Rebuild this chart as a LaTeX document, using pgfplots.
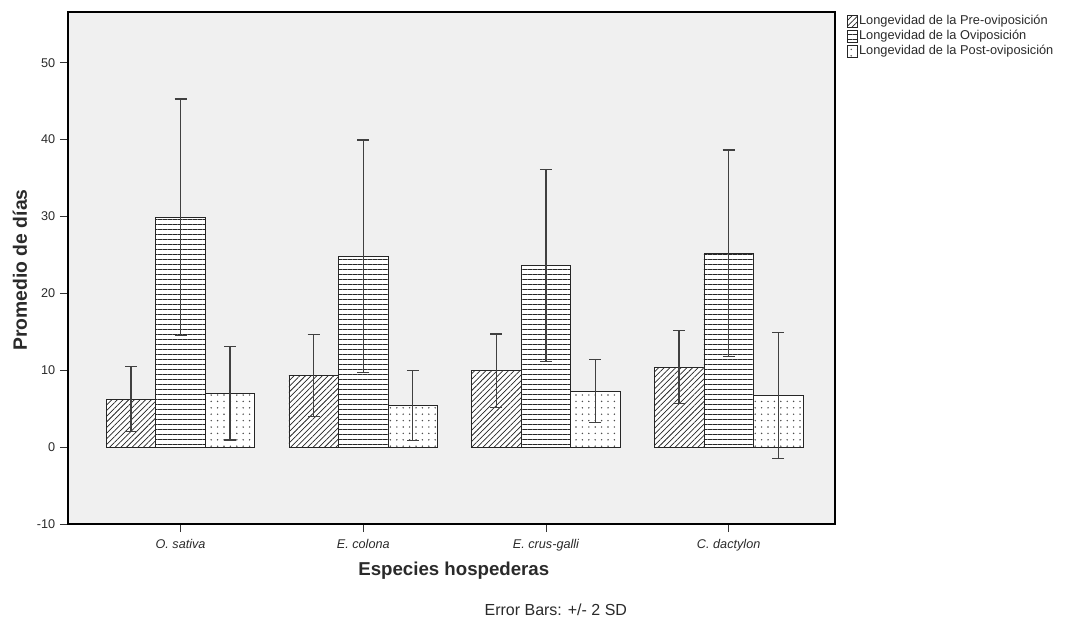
\documentclass[border=0pt]{standalone}
\usepackage{fontspec}
\setmainfont{Liberation Sans}
\usepackage{pgfplots}
\usepackage{pgfplotstable}
\pgfplotsset{compat=1.18}
\usetikzlibrary{patterns.meta}
\definecolor{axisbg}{HTML}{F0F0F0}
\definecolor{ink}{HTML}{2A2A2A}

\pgfplotstableread{
x y ep em
0 6.25 4.20 4.20
1 9.33 5.33 5.33
2 9.94 4.77 4.77
3 10.42 4.73 4.73
}\pre
\pgfplotstableread{
x y ep em
0 29.90 15.40 15.40
1 24.85 15.10 15.10
2 23.63 12.50 12.50
3 25.20 13.45 13.45
}\ovi
\pgfplotstableread{
x y ep em
0 7.03 6.10 6.10
1 5.40 4.58 4.58
2 7.30 4.13 4.13
3 6.70 8.20 8.20
}\post

\begin{document}
\begin{tikzpicture}
\begin{axis}[
  at={(0,0)}, anchor=south west,
  scale only axis, width=575.25pt, height=384pt,
  xmin=-0.616, xmax=3.582, ymin=-10, ymax=56.6,
  clip=false,
  ybar=0pt, bar width=0.271,
  axis background/.style={fill=axisbg},
  axis line style={black, line width=0.9pt},
  tick pos=left, tick align=outside, major tick length=6pt,
  tick style={black!80, line width=0.6pt},
  xtick={0,1,2,3},
  xticklabels={O. sativa, E. colona, E. crus-galli, C. dactylon},
  xticklabel style={font=\itshape\fontsize{9.5}{11}\selectfont, text=ink, yshift=-2pt},
  ytick={-10,0,10,20,30,40,50},
  yticklabel style={font=\fontsize{9.5}{11}\selectfont, text=ink},
  /pgf/number format/assume math mode=true,
  xlabel={Especies hospederas},
  ylabel={Promedio de días},
  xlabel style={font=\bfseries\fontsize{14}{16}\selectfont, text=ink, at={(axis description cs:0.503,0)}, anchor=center, yshift=-35.25pt},
  ylabel style={font=\bfseries\fontsize{14.5}{16}\selectfont, text=ink, at={(axis description cs:0,0.496)}, anchor=center, yshift=36pt},
  legend style={at={(1.0104,1.002)}, anchor=north west, draw=none, fill=none,
    font=\fontsize{9.6}{11}\selectfont, text=ink, row sep=0.4pt,
    nodes={inner sep=0.8pt, text height=7.2pt, text depth=2.2pt}},
  legend cell align=left,
  legend image code/.code={\draw[#1] (0pt,-4.4pt) rectangle (7.5pt,4.6pt);},
  error bars/error bar style={line width=1pt, black!75},
  error bars/error mark options={rotate=90, line width=1pt, black!75, mark size=4.5pt},
]
\addplot[draw=black!85, line width=0.6pt, fill=white,
  postaction={pattern={Lines[angle=45,distance=3pt,line width=0.55pt]}, pattern color=black!85},
  error bars/.cd, y dir=both, y explicit]
  table[x=x, y=y, y error plus=ep, y error minus=em] {\pre};
\addlegendentry{Longevidad de la Pre-oviposición}
\addplot[draw=black!85, line width=0.6pt, fill=white,
  postaction={pattern={Lines[angle=0,distance=3.75pt,line width=0.55pt]}, pattern color=black!85},
  error bars/.cd, y dir=both, y explicit]
  table[x=x, y=y, y error plus=ep, y error minus=em] {\ovi};
\addlegendentry{Longevidad de la Oviposición}
\addplot[draw=black!85, line width=0.6pt, fill=white,
  postaction={pattern={Dots[distance=4.8pt,radius=0.6pt]}, pattern color=black!70},
  error bars/.cd, y dir=both, y explicit]
  table[x=x, y=y, y error plus=ep, y error minus=em] {\post};
\addlegendentry{Longevidad de la Post-oviposición}
\node[font=\fontsize{12}{14}\selectfont, text=ink] at (rel axis cs:0.636,-0.168) {Error Bars: +/- 2 SD};
\end{axis}
\pgfresetboundingbox
\useasboundingbox (-51pt,-71.25pt) rectangle (749.25pt,393pt);
\end{tikzpicture}
\end{document}
